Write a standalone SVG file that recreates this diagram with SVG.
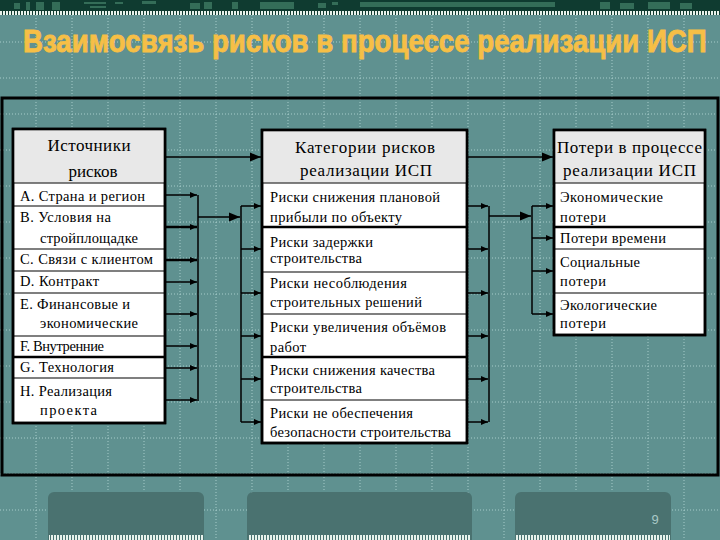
<svg xmlns="http://www.w3.org/2000/svg" width="720" height="540" viewBox="0 0 720 540">
<style>
.grid{stroke:#BFE0DE;stroke-width:1;stroke-dasharray:1 2;opacity:.75;fill:none}
.box{fill:#fff;stroke:#000;stroke-width:2.5}
.hdr{fill:#E8E8E8;stroke:none}
.sep{stroke:#000;stroke-width:1.2}
.sepb{stroke:#000;stroke-width:2.5}
.ht{font-family:'Liberation Serif','Times New Roman',serif;font-size:17px;fill:#000;text-anchor:middle}
.rt{font-family:'Liberation Serif','Times New Roman',serif;font-size:14.5px;fill:#000}
.ln{stroke:#000;stroke-width:1.5;fill:none}
.lnb{stroke:#000;stroke-width:2.5;fill:none}
.tab{fill:#4A7270}
</style>
<defs>
<marker id="sa" markerUnits="userSpaceOnUse" markerWidth="8" markerHeight="8" refX="7" refY="4" orient="auto"><path d="M0,1 L7,4 L0,7 Z" fill="#000"/></marker>
<marker id="ba" markerUnits="userSpaceOnUse" markerWidth="12" markerHeight="12" refX="11" refY="6" orient="auto"><path d="M0,1.5 L11,6 L0,10.5 Z" fill="#000"/></marker>
<pattern id="dash" width="3" height="5" patternUnits="userSpaceOnUse"><rect width="2" height="5" fill="#E8F2EC"/></pattern>
</defs>
<rect width="720" height="540" fill="#5F9190"/>
<g id="grid">
<path class="grid" d="M36,15V540M72,15V540M108,15V540M144,15V540M180,15V540M216,15V540M252,15V540M288,15V540M324,15V540M360,15V540M396,15V540M432,15V540M468,15V540M504,15V540M540,15V540M576,15V540M612,15V540M648,15V540M684,15V540"/>
<path class="grid" d="M0,42H720M0,78H720M0,114H720M0,150H720M0,186H720M0,222H720M0,258H720M0,294H720M0,330H720M0,366H720M0,402H720M0,438H720M0,474H720M0,510H720"/>
</g>
<g id="topstrip">
<rect x="0" y="0" width="720" height="15" fill="#0F3B30"/>
<rect x="0" y="11" width="720" height="4" fill="url(#dash)"/>
<g fill="#3E7A62" opacity="0.8">
<rect x="14" y="3" width="6" height="6"/><rect x="26" y="2" width="4" height="8"/><rect x="36" y="2" width="8" height="8"/><rect x="52" y="2" width="8" height="8"/>
<rect x="84" y="2" width="22" height="2"/><rect x="90" y="6" width="16" height="2"/><rect x="115" y="2" width="8" height="2"/><rect x="142" y="1" width="14" height="3"/>
<rect x="190" y="3" width="10" height="6"/><rect x="204" y="2" width="8" height="7"/><rect x="232" y="2" width="6" height="7"/><rect x="260" y="2" width="34" height="7"/>
<rect x="318" y="3" width="8" height="5"/><rect x="332" y="2" width="6" height="3"/><rect x="360" y="2" width="195" height="5"/>
<rect x="600" y="2" width="10" height="7"/><rect x="620" y="3" width="14" height="6"/><rect x="648" y="2" width="22" height="7"/><rect x="680" y="3" width="12" height="6"/>
</g>
</g>
<text id="title" transform="translate(23,52) scale(0.86,1)" x="0" y="0" textLength="795" lengthAdjust="spacingAndGlyphs" font-family="'Liberation Sans',Arimo,sans-serif" font-weight="bold" font-size="32" fill="#F6BF46" stroke="#F6BF46" stroke-width="0.9">Взаимосвязь рисков в процессе реализации ИСП</text>
<rect id="frame" x="2" y="98" width="716" height="377" fill="none" stroke="#000" stroke-width="3"/>
<g id="sources">
<rect class="box" x="13" y="129" width="152" height="294"/>
<rect class="hdr" x="14.5" y="130.5" width="149" height="52"/>
<rect x="13" y="129" width="152" height="294" fill="none" stroke="#000" stroke-width="2.5"/>
<path class="sep" d="M13,183H165M13,206H165M13,249H165M13,271H165M13,293H165M13,336H165M13,378H165"/>
<path class="sepb" d="M13,357H165"/>
<text class="ht" x="89" y="151" textLength="83">Источники</text>
<text class="ht" x="93" y="177">рисков</text>
<text class="rt" x="20" y="201" textLength="125">A. Страна и регион</text>
<text class="rt" x="20" y="222" textLength="91">B. Условия на</text>
<text class="rt" x="40" y="243" textLength="98">стройплощадке</text>
<text class="rt" x="20" y="264" textLength="133">C. Связи с клиентом</text>
<text class="rt" x="20" y="286" textLength="79">D. Контракт</text>
<text class="rt" x="20" y="309" textLength="110">E. Финансовые и</text>
<text class="rt" x="40" y="328" textLength="98">экономические</text>
<text class="rt" x="20" y="351" textLength="84">F. Внутренние</text>
<text class="rt" x="20" y="372" textLength="94">G. Технология</text>
<text class="rt" x="20" y="396" textLength="92">H. Реализация</text>
<text class="rt" x="40" y="415" textLength="57">проекта</text>
</g>
<g id="categories">
<rect class="box" x="262" y="130" width="205" height="313"/>
<rect class="hdr" x="263.5" y="131.5" width="202" height="51"/>
<rect x="262" y="130" width="205" height="313" fill="none" stroke="#000" stroke-width="2.5"/>
<path class="sep" d="M262,183H467M262,272H467M262,314H467M262,400H467"/>
<path class="sepb" d="M262,227H467M262,357H467"/>
<text class="ht" x="365" y="153" textLength="140">Категории рисков</text>
<text class="ht" x="366" y="176" textLength="132">реализации ИСП</text>
<text class="rt" x="270" y="202" textLength="170">Риски снижения плановой</text>
<text class="rt" x="270" y="222" textLength="132">прибыли по объекту</text>
<text class="rt" x="270" y="247" textLength="103">Риски задержки</text>
<text class="rt" x="270" y="263" textLength="92">строительства</text>
<text class="rt" x="270" y="288" textLength="137">Риски несоблюдения</text>
<text class="rt" x="270" y="307" textLength="152">строительных решений</text>
<text class="rt" x="270" y="332" textLength="176">Риски увеличения объёмов</text>
<text class="rt" x="270" y="352" textLength="36">работ</text>
<text class="rt" x="270" y="375" textLength="165">Риски снижения качества</text>
<text class="rt" x="270" y="393" textLength="92">строительства</text>
<text class="rt" x="270" y="418" textLength="143">Риски не обеспечения</text>
<text class="rt" x="270" y="437" textLength="181">безопасности строительства</text>
</g>
<g id="losses">
<rect class="box" x="554" y="130" width="151" height="205"/>
<rect class="hdr" x="555.5" y="131.5" width="148" height="51"/>
<rect x="554" y="130" width="151" height="205" fill="none" stroke="#000" stroke-width="2.5"/>
<path class="sep" d="M554,183H705M554,249H705M554,293H705"/>
<path class="sepb" d="M554,227H705"/>
<text class="ht" x="629.5" y="153" textLength="145">Потери в процессе</text>
<text class="ht" x="629.5" y="176" textLength="133">реализации ИСП</text>
<text class="rt" x="560" y="202" textLength="103">Экономические</text>
<text class="rt" x="560" y="222" textLength="46">потери</text>
<text class="rt" x="560" y="243" textLength="106">Потери времени</text>
<text class="rt" x="560" y="267" textLength="80">Социальные</text>
<text class="rt" x="560" y="286" textLength="46">потери</text>
<text class="rt" x="560" y="310" textLength="97">Экологические</text>
<text class="rt" x="560" y="328" textLength="46">потери</text>
</g>
<g id="connectors">
<path class="ln" d="M165,157H261" marker-end="url(#ba)"/>
<path class="ln" d="M467,157H553" marker-end="url(#ba)"/>
<path class="ln" d="M165,195H197" marker-end="url(#sa)"/>
<path class="lnb" d="M165,227H197" marker-end="url(#sa)"/>
<path class="lnb" d="M165,260H197" marker-end="url(#sa)"/>
<path class="ln" d="M165,282H197" marker-end="url(#sa)"/>
<path class="ln" d="M165,314H197" marker-end="url(#sa)"/>
<path class="ln" d="M165,346H197" marker-end="url(#sa)"/>
<path class="ln" d="M165,368H197" marker-end="url(#sa)"/>
<path class="ln" d="M165,400H197" marker-end="url(#sa)"/>
<path class="ln" d="M198,195V401"/>
<path class="ln" d="M198,217H240" marker-end="url(#ba)"/>
<path class="ln" d="M241,206V422"/>
<path class="ln" d="M241,206H261" marker-end="url(#sa)"/>
<path class="ln" d="M241,249H261" marker-end="url(#sa)"/>
<path class="ln" d="M241,293H261" marker-end="url(#sa)"/>
<path class="ln" d="M241,336H261" marker-end="url(#sa)"/>
<path class="ln" d="M241,379H261" marker-end="url(#sa)"/>
<path class="ln" d="M241,422H261" marker-end="url(#sa)"/>
<path class="ln" d="M467,206H488" marker-end="url(#sa)"/>
<path class="ln" d="M467,249H488" marker-end="url(#sa)"/>
<path class="ln" d="M467,293H488" marker-end="url(#sa)"/>
<path class="ln" d="M467,336H488" marker-end="url(#sa)"/>
<path class="ln" d="M467,379H488" marker-end="url(#sa)"/>
<path class="ln" d="M467,422H488" marker-end="url(#sa)"/>
<path class="ln" d="M489,206V422"/>
<path class="ln" d="M489,216H531" marker-end="url(#ba)"/>
<path class="ln" d="M532,206V314"/>
<path class="ln" d="M532,206H553" marker-end="url(#sa)"/>
<path class="ln" d="M532,238H553" marker-end="url(#sa)"/>
<path class="ln" d="M532,271H553" marker-end="url(#sa)"/>
<path class="ln" d="M532,314H553" marker-end="url(#sa)"/>
</g>
<g id="tabs">
<path class="tab" d="M48,540V498a6,6 0 0 1 6,-6H198a6,6 0 0 1 6,6V540Z"/>
<path class="tab" d="M247,540V498a6,6 0 0 1 6,-6H466a6,6 0 0 1 6,6V540Z"/>
<path class="tab" d="M515,540V498a6,6 0 0 1 6,-6H665a6,6 0 0 1 6,6V540Z"/>
<rect x="49" y="535" width="154" height="5" fill="url(#dash)"/>
<rect x="248" y="535" width="223" height="5" fill="url(#dash)"/>
<rect x="516" y="535" width="154" height="5" fill="url(#dash)"/>
<text x="655" y="524" font-family="'Liberation Sans',sans-serif" font-size="13" fill="#A9C9C7" text-anchor="middle">9</text>
</g>
</svg>
